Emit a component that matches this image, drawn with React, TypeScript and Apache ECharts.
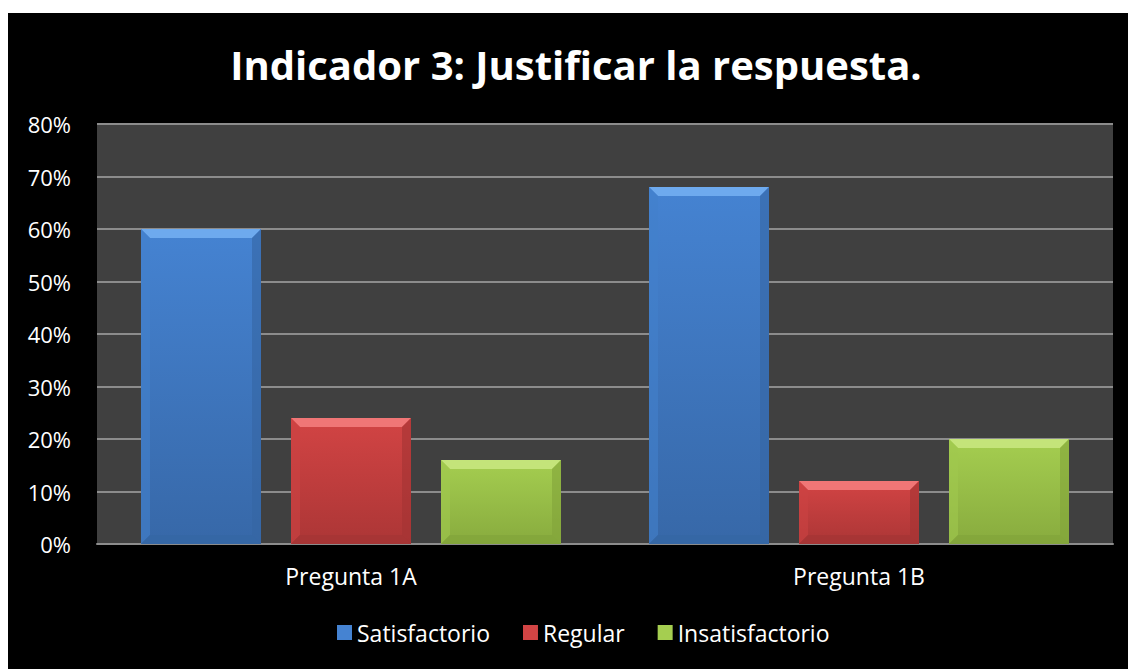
import React, { useEffect, useRef } from "react";
import * as echarts from "echarts";

const titleText = "Indicador 3: Justificar la respuesta.";
const categories = ["Pregunta 1A", "Pregunta 1B"];
const seriesNames = ["Satisfactorio", "Regular", "Insatisfactorio"];
const satisfactorio = [60, 68];
const regular = [24, 12];
const insatisfactorio = [16, 20];
const yTicks = [0, 10, 20, 30, 40, 50, 60, 70, 80];

const palettes = [
  { main: "#4583d2", top: "#6eaaee", bottom: "#3768a8", side: "#4280cc", dark: "#3566a4" },
  { main: "#d24444", top: "#f07676", bottom: "#ac3636", side: "#cc4242", dark: "#a43434" },
  { main: "#a5ce50", top: "#c4e47a", bottom: "#88ab3e", side: "#a0c84e", dark: "#82a43a" },
];

export default function App() {
  const ref = useRef<HTMLDivElement>(null);
  useEffect(() => {
    if (!ref.current) return;
    const chart = echarts.init(ref.current, undefined, { renderer: "svg" });
    const values = [satisfactorio, regular, insatisfactorio];
    const font = '"Open Sans", sans-serif';
    const series = seriesNames.map((name, si) => ({
      type: "custom",
      name,
      itemStyle: { color: palettes[si].main },
      data: values[si].map((v, i) => [i, v]),
      encode: { x: 0, y: 1 },
      renderItem: (params: any, api: any) => {
        const cat = api.value(0);
        const val = api.value(1);
        const band = api.size([1, 0])[0];
        const bw = band * (120 / 508);
        const gap = band * (30 / 508);
        const topPt = api.coord([cat, val]);
        const botPt = api.coord([cat, 0]);
        const cx = topPt[0] + (si - 1) * (bw + gap);
        const x0 = cx - bw / 2;
        const x1 = cx + bw / 2;
        const y0 = topPt[1];
        const y1 = botPt[1];
        const b = 9;
        const p = palettes[si];
        return {
          type: "group",
          children: [
            {
              type: "rect",
              shape: { x: x0, y: y0, width: x1 - x0, height: y1 - y0 },
              style: {
                fill: new echarts.graphic.LinearGradient(0, 0, 0, 1, [
                  { offset: 0, color: p.main },
                  { offset: 1, color: p.bottom },
                ]),
              },
            },
            {
              type: "polygon",
              shape: { points: [[x0, y0], [x1, y0], [x1 - b, y0 + b], [x0 + b, y0 + b]] },
              style: { fill: p.top },
            },
            {
              type: "polygon",
              shape: { points: [[x0, y0], [x0 + b, y0 + b], [x0 + b, y1 - b], [x0, y1]] },
              style: { fill: p.side, opacity: 0.6 },
            },
            {
              type: "polygon",
              shape: { points: [[x1, y0], [x1 - b, y0 + b], [x1 - b, y1 - b], [x1, y1]] },
              style: { fill: p.dark, opacity: 0.6 },
            },
            {
              type: "polygon",
              shape: { points: [[x0, y1], [x0 + b, y1 - b], [x1 - b, y1 - b], [x1, y1]] },
              style: { fill: p.dark, opacity: 0.7 },
            },
          ],
        };
      },
    }));
    chart.setOption({
      animation: false,
      backgroundColor: "#000000",
      title: {
        text: titleText,
        left: 563,
        top: 26,
        textAlign: "center",
        textStyle: { color: "#ffffff", fontFamily: font, fontWeight: "bold", fontSize: 40 },
      },
      legend: {
        data: seriesNames,
        left: 324,
        top: 603,
        icon: "rect",
        itemWidth: 15,
        itemHeight: 15,
        itemGap: 33,
        textStyle: { color: "#ffffff", fontFamily: font, fontSize: 23 },
      },
      grid: {
        left: 89,
        right: 15,
        top: 111,
        bottom: 125,
        show: true,
        backgroundColor: "#404040",
        borderWidth: 0,
      },
      xAxis: {
        type: "category",
        data: categories,
        axisTick: { show: false },
        axisLine: { lineStyle: { color: "#8c8c8c", width: 2 } },
        axisLabel: { color: "#ffffff", fontFamily: font, fontSize: 23, margin: 20 },
      },
      yAxis: {
        type: "value",
        min: yTicks[0],
        max: yTicks[yTicks.length - 1],
        interval: 10,
        axisLine: { show: false },
        axisTick: { show: false },
        axisLabel: { color: "#ffffff", fontFamily: font, fontSize: 22, margin: 26, formatter: "{value}%" },
        splitLine: { lineStyle: { color: "#8c8c8c", width: 2 } },
      },
      series,
    });
    return () => chart.dispose();
  }, []);
  return (
    <div
      ref={ref}
      style={{ position: "absolute", left: 8, top: 13, width: 1120, height: 656 }}
    />
  );
}
